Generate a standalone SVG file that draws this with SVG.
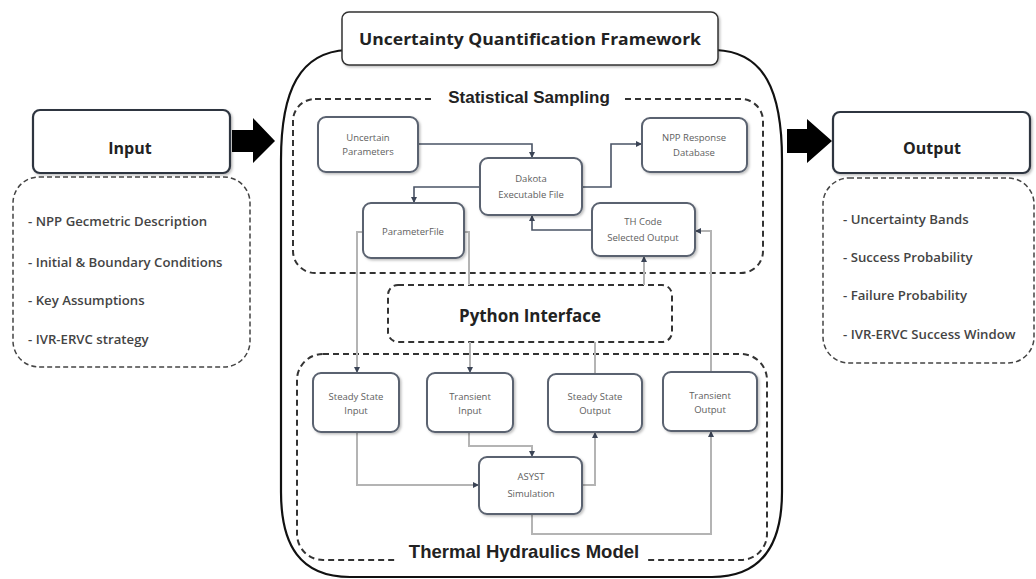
<svg xmlns="http://www.w3.org/2000/svg" width="1036" height="579" viewBox="0 0 1036 579">
<defs>
<style>
.node{fill:#fff;stroke:#5a6270;stroke-width:2}
.io{fill:#fff;stroke:#2e3540;stroke-width:2.2}
.dash{fill:none;stroke:#333;stroke-width:2;stroke-dasharray:6 4}
.dashio{fill:none;stroke:#444;stroke-width:1.5;stroke-dasharray:5 3}
.nt{font-family:"Open Sans",sans-serif;font-size:9.5px;fill:#5e5e5e;text-anchor:middle}
.lt{font-family:"Open Sans",sans-serif;font-size:13.2px;font-weight:600;fill:#444}
.hd{font-family:"Open Sans",sans-serif;font-weight:700;fill:#222;text-anchor:middle}
.sec{font-family:"Liberation Sans",Arial,sans-serif;font-weight:700;fill:#222;text-anchor:middle}
.c1{fill:none;stroke:#4a5466;stroke-width:1.6}
.c2{fill:none;stroke:#b4b4b4;stroke-width:2}
</style>
<marker id="ah" viewBox="0 0 10 10" refX="10" refY="5" markerWidth="6" markerHeight="6" orient="auto" markerUnits="userSpaceOnUse">
<path d="M0,0 L10,5 L0,10 z" fill="#3b4456"/>
</marker>
<filter id="sh" x="-10%" y="-10%" width="130%" height="130%">
<feDropShadow dx="1.5" dy="1.5" stdDeviation="1" flood-color="#000" flood-opacity="0.25"/>
</filter>
</defs>
<rect width="1036" height="579" fill="#fff"/>

<!-- Framework outer frame -->
<g id="framework">
<path d="M342,50 L347,50 C300,52 281,90 281,160 L281,492 C281,545 300,577 350,577 L712,577 C762,577 782,545 782,492 L782,160 C782,90 764,52 716,50" fill="none" stroke="#111" stroke-width="2.2"/>
<rect x="342" y="12" width="376" height="53" rx="7" fill="#fff" stroke="#333" stroke-width="1.5" filter="url(#sh)"/>
<text x="530" y="45" class="hd" font-size="16.5" textLength="342" lengthAdjust="spacingAndGlyphs">Uncertainty Quantification Framework</text>
</g>

<!-- Statistical Sampling group -->
<g id="statistical-sampling">
<rect x="293" y="99" width="470" height="174" rx="22" class="dash"/>
<rect x="432" y="88" width="190" height="20" fill="#fff"/>
<text x="529" y="103" class="sec" font-size="17">Statistical Sampling</text>
</g>

<!-- Python Interface -->
<g id="python-interface">
<rect x="388" y="285" width="284" height="57" rx="10" class="dash"/>
<text x="530" y="322" class="hd" font-size="17" textLength="142" lengthAdjust="spacingAndGlyphs">Python Interface</text>
</g>

<!-- Thermal Hydraulics Model -->
<g id="thermal-hydraulics-model">
<rect x="297" y="354" width="470" height="206" rx="26" class="dash"/>
<rect x="398" y="540" width="250" height="24" fill="#fff"/>
<text x="524" y="558" class="sec" font-size="18.5">Thermal Hydraulics Model</text>
</g>

<!-- Connectors -->
<g id="connectors">
<path class="c1" d="M418,144 H532 V158" marker-end="url(#ah)"/>
<path class="c1" d="M480,187 H414 V203" marker-end="url(#ah)"/>
<path class="c1" d="M582,187 H611 V144 H642" marker-end="url(#ah)"/>
<path class="c1" d="M592,230 H532 V215" marker-end="url(#ah)"/>
<path class="c2" d="M644,285 V256" marker-end="url(#ah)"/>
<path class="c2" d="M711,372 V231 H695" marker-end="url(#ah)"/>
<path class="c2" d="M363,232 H357 V373" marker-end="url(#ah)"/>
<path class="c2" d="M464,232 H469 V285"/>
<path class="c2" d="M470,342 V373" marker-end="url(#ah)"/>
<path class="c2" d="M595,374 V342"/>
<path class="c2" d="M357,432 V485 H479" marker-end="url(#ah)"/>
<path class="c2" d="M469,432 V446 H532 V457" marker-end="url(#ah)"/>
<path class="c2" d="M582,485 H595 V432" marker-end="url(#ah)"/>
<path class="c2" d="M532,514 V534 H711 V431" marker-end="url(#ah)"/>
<!-- big arrows -->
<path d="M232,130 H253 V118 L275,141 L253,163 V152 H232 z" fill="#000"/>
<path d="M787,129 H807 V119 L832,141 L807,163 V153 H787 z" fill="#000"/>
</g>

<!-- Sampling nodes -->
<g id="uncertain-parameters">
<rect x="318" y="117" width="100" height="55" rx="8" class="node" filter="url(#sh)"/>
<text x="368" y="141" class="nt">Uncertain</text>
<text x="368" y="155" class="nt">Parameters</text>
</g>
<g id="dakota">
<rect x="480" y="158" width="102" height="57" rx="8" class="node" filter="url(#sh)"/>
<text x="531" y="182" class="nt">Dakota</text>
<text x="531" y="198" class="nt">Executable File</text>
</g>
<g id="npp-response-database">
<rect x="642" y="118" width="105" height="54" rx="8" class="node" filter="url(#sh)"/>
<text x="694" y="141" class="nt">NPP Response</text>
<text x="694" y="156" class="nt">Database</text>
</g>
<g id="parameter-file">
<rect x="363" y="203" width="101" height="55" rx="8" class="node" filter="url(#sh)"/>
<text x="413" y="235" class="nt">ParameterFile</text>
</g>
<g id="th-code-selected-output">
<rect x="592" y="203" width="103" height="53" rx="8" class="node" filter="url(#sh)"/>
<text x="643" y="225" class="nt">TH Code</text>
<text x="643" y="241" class="nt">Selected Output</text>
</g>

<!-- TH nodes -->
<g id="steady-state-input">
<rect x="313" y="373" width="86" height="59" rx="8" class="node" filter="url(#sh)"/>
<text x="356" y="400" class="nt">Steady State</text>
<text x="356" y="414" class="nt">Input</text>
</g>
<g id="transient-input">
<rect x="427" y="373" width="86" height="59" rx="8" class="node" filter="url(#sh)"/>
<text x="470" y="400" class="nt">Transient</text>
<text x="470" y="414" class="nt">Input</text>
</g>
<g id="steady-state-output">
<rect x="548" y="374" width="94" height="58" rx="8" class="node" filter="url(#sh)"/>
<text x="595" y="400" class="nt">Steady State</text>
<text x="595" y="414" class="nt">Output</text>
</g>
<g id="transient-output">
<rect x="663" y="372" width="94" height="59" rx="8" class="node" filter="url(#sh)"/>
<text x="710" y="399" class="nt">Transient</text>
<text x="710" y="413" class="nt">Output</text>
</g>
<g id="asyst-simulation">
<rect x="479" y="457" width="103" height="57" rx="8" class="node" filter="url(#sh)"/>
<text x="531" y="480" class="nt">ASYST</text>
<text x="531" y="497" class="nt">Simulation</text>
</g>

<!-- Input -->
<g id="input">
<rect x="33" y="110" width="197" height="63" rx="7" class="io" filter="url(#sh)"/>
<text x="130" y="154" class="hd" font-size="16">Input</text>
<rect x="13" y="177" width="237" height="190" rx="26" class="dashio"/>
<text x="28" y="226" class="lt">- NPP Gecmetric Description</text>
<text x="28" y="267" class="lt">- Initial &amp; Boundary Conditions</text>
<text x="28" y="305" class="lt">- Key Assumptions</text>
<text x="28" y="344" class="lt">- IVR-ERVC strategy</text>
</g>

<!-- Output -->
<g id="output">
<rect x="833" y="112" width="197" height="61" rx="7" class="io" filter="url(#sh)"/>
<text x="932" y="154" class="hd" font-size="16">Output</text>
<rect x="823" y="178" width="211" height="185" rx="26" class="dashio"/>
<text x="843" y="224" class="lt">- Uncertainty Bands</text>
<text x="843" y="262" class="lt">- Success Probability</text>
<text x="843" y="300" class="lt">- Failure Probability</text>
<text x="843" y="339" class="lt">- IVR-ERVC Success Window</text>
</g>
</svg>
